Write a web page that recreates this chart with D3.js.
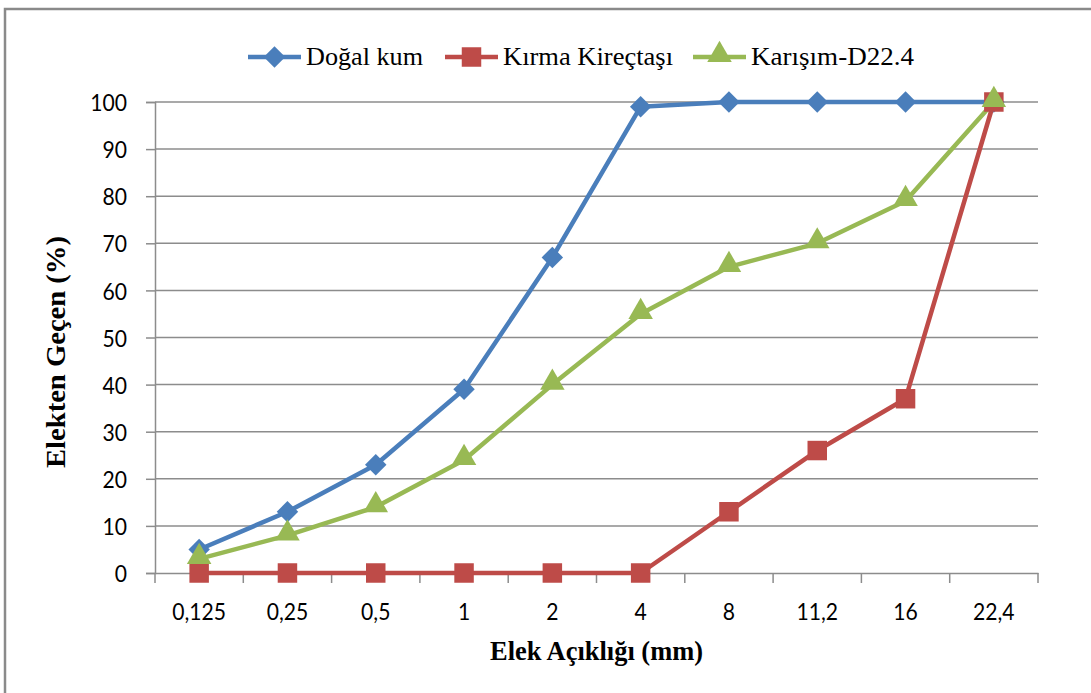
<!DOCTYPE html>
<html>
<head>
<meta charset="utf-8">
<script src="https://cdn.jsdelivr.net/npm/d3@7"></script>
<style>
  body { margin: 0; background: #fff; }
  .serif { font-family: "Liberation Serif", "DejaVu Serif", serif; }
</style>
</head>
<body>
<div id="chart"></div>
<script>
// sieve sizes (mm)
let sieves = ["0,125", "0,25", "0,5", "1", "2", "4", "8", "11,2", "16", "22,4"];
let yTicks = [0, 10, 20, 30, 40, 50, 60, 70, 80, 90, 100];

let dogalKum = [5, 13, 23, 39, 67, 99, 100, 100, 100, 100];
let kirmaKirectasi = [0, 0, 0, 0, 0, 0, 13, 26, 37, 100];
let karisim = [3, 8, 14, 24, 40, 55, 65, 70, 79, 100];

let series = [
    {name: "Doğal kum", values: dogalKum, color: "#4a7ebb", marker: "diamond"},
    {name: "Kırma Kireçtaşı", values: kirmaKirectasi, color: "#be4b48", marker: "square"},
    {name: "Karışım-D22.4", values: karisim, color: "#98b954", marker: "triangle"}
];

let width = 1091, height = 693;
let margin = {top: 102, right: 53, bottom: 120, left: 155};
let innerW = width - margin.left - margin.right;
let innerH = height - margin.top - margin.bottom;

let sansFont = "Lato, 'Open Sans', sans-serif";

let svg = d3.select("#chart").append("svg")
    .attr("width", width)
    .attr("height", height);

// outer frame
svg.append("path")
    .attr("d", `M5,${height} L5,9 L${width},9`)
    .attr("fill", "none")
    .attr("stroke", "#8a8a8a")
    .attr("stroke-width", 2.5);

let g = svg.append("g").attr("transform", `translate(${margin.left},${margin.top})`);

let x = d3.scaleBand().domain(sieves).range([0, innerW]);
let y = d3.scaleLinear().domain([0, 100]).range([innerH, 0]);

// gridlines
g.append("g")
    .selectAll("line")
    .data(yTicks.filter(d => d > 0))
    .join("line")
    .attr("x1", 0)
    .attr("x2", innerW)
    .attr("y1", d => y(d))
    .attr("y2", d => y(d))
    .attr("stroke", "#8c8c8c")
    .attr("stroke-width", 1.5);

// y axis
let yAxis = g.append("g")
    .call(d3.axisLeft(y).tickValues(yTicks).tickSize(9).tickPadding(19));
yAxis.select(".domain").attr("stroke", "#8c8c8c").attr("stroke-width", 1.5);
yAxis.selectAll(".tick line").attr("stroke", "#8c8c8c").attr("stroke-width", 1.5);
yAxis.selectAll(".tick text")
    .attr("x", 0)
    .attr("dy", "0.36em")
    .attr("transform", "translate(-28,0) scale(0.88,1)")
    .style("font-family", sansFont)
    .style("font-size", "24px")
    .attr("fill", "#000");

// x axis with ticks at band boundaries
let xAxis = g.append("g")
    .attr("transform", `translate(0,${innerH})`)
    .call(d3.axisBottom(x).tickSize(0));
xAxis.select(".domain").attr("stroke", "#8c8c8c").attr("stroke-width", 1.5);
xAxis.selectAll(".tick text")
    .attr("y", 0)
    .attr("dy", 0)
    .attr("transform", "translate(0,47) scale(0.88,1)")
    .style("font-family", sansFont)
    .style("font-size", "24px")
    .attr("fill", "#000");
xAxis.selectAll(".boundary")
    .data(d3.range(sieves.length + 1))
    .join("line")
    .attr("class", "boundary")
    .attr("x1", i => i * x.bandwidth())
    .attr("x2", i => i * x.bandwidth())
    .attr("y1", 0)
    .attr("y2", 10)
    .attr("stroke", "#8c8c8c")
    .attr("stroke-width", 1.5);

// axis titles
svg.append("text")
    .attr("class", "serif")
    .attr("x", margin.left + innerW / 2)
    .attr("y", 660)
    .attr("text-anchor", "middle")
    .attr("textLength", 213)
    .attr("lengthAdjust", "spacingAndGlyphs")
    .style("font-weight", "bold")
    .style("font-size", "28px")
    .text("Elek Açıklığı (mm)");

svg.append("text")
    .attr("class", "serif")
    .attr("transform", `translate(65,352) rotate(-90)`)
    .attr("text-anchor", "middle")
    .attr("textLength", 232)
    .attr("lengthAdjust", "spacingAndGlyphs")
    .style("font-weight", "bold")
    .style("font-size", "28px")
    .text("Elekten Geçen (%)");

// markers
let symbolFor = {
    diamond: d3.symbol().type(d3.symbolSquare).size(230),
    square: d3.symbol().type(d3.symbolSquare).size(380),
    triangle: d3.symbol().type(d3.symbolTriangle).size(260)
};

function drawMarker(sel, s) {
    let p = sel.append("path")
        .attr("d", symbolFor[s.marker]())
        .attr("fill", s.color);
    if (s.marker === "diamond") p.attr("transform", "rotate(45)");
    if (s.marker === "triangle") p.attr("transform", "translate(0,-2)");
    return p;
}

let line = d3.line()
    .x((d, i) => x(sieves[i]) + x.bandwidth() / 2)
    .y(d => y(d));

series.forEach(s => {
    g.append("path")
        .datum(s.values)
        .attr("fill", "none")
        .attr("stroke", s.color)
        .attr("stroke-width", 4.5)
        .attr("stroke-linejoin", "round")
        .attr("d", line);
});

series.forEach(s => {
    s.values.forEach((v, i) => {
        let m = g.append("g")
            .attr("transform", `translate(${x(sieves[i]) + x.bandwidth() / 2},${y(v)})`);
        drawMarker(m, s);
    });
});

// legend
let legendPos = [248, 445, 693];
let legendTextW = [117, 170, 163];
let legend = svg.append("g");
series.forEach((s, i) => {
    let lg = legend.append("g").attr("transform", `translate(${legendPos[i]},57)`);
    lg.append("line")
        .attr("x1", 0).attr("x2", 53)
        .attr("stroke", s.color)
        .attr("stroke-width", 4.5);
    let m = lg.append("g").attr("transform", "translate(26.5,0)");
    drawMarker(m, s);
    lg.append("text")
        .attr("class", "serif")
        .attr("x", 58)
        .attr("y", 8)
        .attr("textLength", legendTextW[i])
        .attr("lengthAdjust", "spacingAndGlyphs")
        .style("font-weight", "normal")
        .style("font-size", "26px")
        .attr("fill", "#000")
        .text(s.name);
});
</script>
</body>
</html>
